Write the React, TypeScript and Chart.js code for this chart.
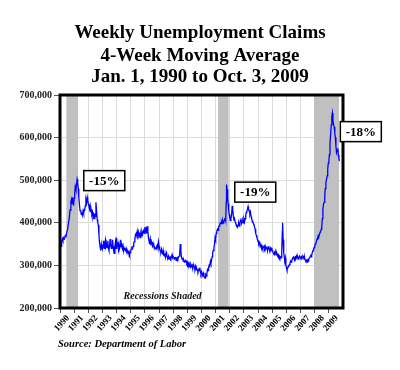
import { useEffect, useRef } from "react";
import { Chart, registerables } from "chart.js";

Chart.register(...registerables);

const TITLE_LINES = ["Weekly Unemployment Claims", "4-Week Moving Average", "Jan. 1, 1990 to Oct. 3, 2009"];
const SOURCE_TEXT = "Source: Department of Labor";
const SHADE_NOTE = "Recessions Shaded";

const yearTicks = [1990, 1991, 1992, 1993, 1994, 1995, 1996, 1997, 1998, 1999, 2000, 2001, 2002, 2003, 2004, 2005, 2006, 2007, 2008, 2009];
const claimTicks = [200000, 300000, 400000, 500000, 600000, 700000];

const recessionStart = [1990.45, 2001.17, 2007.95];
const recessionEnd = [1991.28, 2001.92, 2009.72];

const noteLabels = ["-15%", "-19%", "-18%"];
const noteYears = [1993.13, 2003.8, 2011.26];
const noteClaims = [499000, 472000, 614000];

const weekDates = [
  1990.00, 1990.04, 1990.08, 1990.12, 1990.17, 1990.21, 1990.25, 1990.31, 1990.37, 1990.42, 1990.48, 1990.54, 1990.60, 1990.65, 1990.71, 1990.77, 1990.81, 1990.85, 1990.88, 1990.92, 1990.96,
  1991.00, 1991.04, 1991.08, 1991.13, 1991.17, 1991.21, 1991.25, 1991.29, 1991.33, 1991.38, 1991.42, 1991.46, 1991.50, 1991.54, 1991.58, 1991.63, 1991.67, 1991.71, 1991.75, 1991.79, 1991.83, 1991.88, 1991.92, 1991.96,
  1992.00, 1992.04, 1992.08, 1992.13, 1992.17, 1992.21, 1992.25, 1992.29, 1992.33, 1992.38, 1992.42, 1992.46, 1992.50, 1992.54, 1992.58, 1992.63, 1992.67, 1992.71, 1992.75, 1992.79, 1992.83, 1992.88, 1992.92, 1992.96,
  1993.00, 1993.04, 1993.08, 1993.13, 1993.17, 1993.21, 1993.25, 1993.29, 1993.33, 1993.38, 1993.42, 1993.46, 1993.50, 1993.54, 1993.58, 1993.63, 1993.67, 1993.71, 1993.75, 1993.79, 1993.83, 1993.88, 1993.92, 1993.96,
  1994.00, 1994.04, 1994.08, 1994.13, 1994.17, 1994.21, 1994.25, 1994.29, 1994.33, 1994.38, 1994.42, 1994.46, 1994.50, 1994.54, 1994.58, 1994.63, 1994.67, 1994.71, 1994.75, 1994.79, 1994.83, 1994.88, 1994.92, 1994.96,
  1995.00, 1995.04, 1995.08, 1995.13, 1995.17, 1995.21, 1995.25, 1995.29, 1995.33, 1995.38, 1995.42, 1995.46, 1995.50, 1995.54, 1995.58, 1995.63, 1995.67, 1995.71, 1995.75, 1995.79, 1995.83, 1995.88, 1995.92, 1995.96,
  1996.00, 1996.04, 1996.08, 1996.13, 1996.17, 1996.21, 1996.25, 1996.29, 1996.33, 1996.38, 1996.42, 1996.46, 1996.50, 1996.54, 1996.58, 1996.63, 1996.67, 1996.71, 1996.75, 1996.79, 1996.83, 1996.88, 1996.92, 1996.96,
  1997.00, 1997.04, 1997.08, 1997.13, 1997.17, 1997.21, 1997.25, 1997.29, 1997.33, 1997.38, 1997.42, 1997.46, 1997.50, 1997.54, 1997.58, 1997.63, 1997.67, 1997.71, 1997.75, 1997.79, 1997.83, 1997.88, 1997.92, 1997.96,
  1998.00, 1998.04, 1998.08, 1998.13, 1998.17, 1998.21, 1998.25, 1998.29, 1998.33, 1998.38, 1998.42, 1998.46, 1998.50, 1998.54, 1998.58, 1998.63, 1998.67, 1998.71, 1998.75, 1998.79, 1998.83, 1998.88, 1998.92, 1998.96,
  1999.00, 1999.04, 1999.08, 1999.13, 1999.17, 1999.21, 1999.25, 1999.29, 1999.33, 1999.38, 1999.42, 1999.46, 1999.50, 1999.54, 1999.58, 1999.63, 1999.67, 1999.71, 1999.75, 1999.79, 1999.83, 1999.88, 1999.92, 1999.96,
  2000.00, 2000.04, 2000.08, 2000.13, 2000.17, 2000.21, 2000.25, 2000.29, 2000.33, 2000.38, 2000.42, 2000.46, 2000.50, 2000.54, 2000.58, 2000.63, 2000.67, 2000.71, 2000.75, 2000.79, 2000.83, 2000.88, 2000.92, 2000.96,
  2001.00, 2001.04, 2001.08, 2001.13, 2001.17, 2001.21, 2001.25, 2001.29, 2001.33, 2001.38, 2001.42, 2001.46, 2001.50, 2001.54, 2001.58, 2001.63, 2001.67, 2001.71, 2001.75, 2001.77, 2001.81, 2001.85, 2001.88, 2001.92, 2001.96,
  2002.00, 2002.04, 2002.08, 2002.13, 2002.17, 2002.21, 2002.25, 2002.29, 2002.33, 2002.38, 2002.42, 2002.46, 2002.50, 2002.54, 2002.58, 2002.63, 2002.67, 2002.71, 2002.75, 2002.79, 2002.83, 2002.88, 2002.92, 2002.96,
  2003.00, 2003.04, 2003.08, 2003.13, 2003.17, 2003.21, 2003.25, 2003.29, 2003.33, 2003.38, 2003.42, 2003.46, 2003.50, 2003.54, 2003.58, 2003.63, 2003.67, 2003.71, 2003.75, 2003.79, 2003.83, 2003.88, 2003.92, 2003.96,
  2004.00, 2004.04, 2004.08, 2004.13, 2004.17, 2004.21, 2004.25, 2004.29, 2004.33, 2004.38, 2004.42, 2004.46, 2004.50, 2004.54, 2004.58, 2004.63, 2004.67, 2004.71, 2004.75, 2004.79, 2004.83, 2004.88, 2004.92, 2004.96,
  2005.00, 2005.04, 2005.08, 2005.13, 2005.17, 2005.21, 2005.25, 2005.29, 2005.33, 2005.38, 2005.42, 2005.46, 2005.50, 2005.54, 2005.58, 2005.63, 2005.67, 2005.71, 2005.73, 2005.77, 2005.81, 2005.85, 2005.88, 2005.92, 2005.96,
  2006.00, 2006.04, 2006.08, 2006.13, 2006.17, 2006.21, 2006.25, 2006.29, 2006.33, 2006.38, 2006.42, 2006.46, 2006.50, 2006.54, 2006.58, 2006.63, 2006.67, 2006.71, 2006.75, 2006.79, 2006.83, 2006.88, 2006.92, 2006.96,
  2007.00, 2007.04, 2007.08, 2007.13, 2007.17, 2007.21, 2007.25, 2007.29, 2007.33, 2007.38, 2007.42, 2007.46, 2007.50, 2007.54, 2007.58, 2007.63, 2007.67, 2007.71, 2007.75, 2007.79, 2007.83, 2007.88, 2007.92, 2007.96,
  2008.00, 2008.04, 2008.08, 2008.13, 2008.17, 2008.21, 2008.25, 2008.29, 2008.33, 2008.38, 2008.42, 2008.46, 2008.50, 2008.54, 2008.58, 2008.63, 2008.67, 2008.71, 2008.75, 2008.79, 2008.83, 2008.88, 2008.92, 2008.96,
  2009.00, 2009.04, 2009.08, 2009.13, 2009.17, 2009.21, 2009.25, 2009.29, 2009.33, 2009.38, 2009.42, 2009.46, 2009.50, 2009.54, 2009.58, 2009.63, 2009.67, 2009.71, 2009.75,
];

const claimsThousands = [
  360, 352, 345, 355, 362, 358, 365, 362, 370, 368, 378, 385, 400, 410, 430, 450, 455, 445, 460, 452, 440,
  458, 470, 485, 478, 490, 502, 495, 480, 460, 440, 428, 430, 420, 425, 418, 428, 422, 430, 432, 440, 455, 448, 460, 452,
  445, 440, 432, 440, 428, 430, 420, 425, 412, 418, 410, 422, 415, 448, 430, 408, 400, 395, 372, 355, 345, 335, 350, 342,
  338, 345, 358, 340, 352, 360, 345, 350, 342, 358, 340, 335, 345, 362, 348, 340, 345, 360, 345, 335, 328, 345, 355, 340,
  365, 345, 355, 338, 350, 340, 345, 360, 352, 342, 338, 345, 335, 340, 338, 335, 340, 332, 335, 330, 328, 332, 326, 330,
  335, 338, 342, 340, 345, 352, 355, 360, 372, 375, 370, 380, 372, 378, 368, 372, 365, 375, 370, 378, 372, 380, 385, 375,
  390, 380, 385, 375, 392, 380, 365, 358, 350, 362, 352, 355, 348, 345, 352, 345, 340, 342, 340, 338, 345, 348, 342, 355,
  345, 338, 335, 332, 338, 330, 328, 335, 325, 322, 328, 320, 330, 325, 320, 318, 322, 315, 318, 320, 316, 320, 325, 318,
  320, 318, 315, 318, 320, 312, 315, 318, 315, 320, 322, 328, 350, 335, 320, 315, 318, 310, 312, 308, 310, 312, 310, 305,
  308, 302, 305, 298, 300, 295, 302, 298, 300, 296, 302, 298, 295, 292, 298, 290, 292, 288, 285, 290, 288, 295, 285, 280,
  285, 280, 278, 282, 275, 272, 270, 278, 275, 280, 290, 288, 295, 300, 298, 310, 305, 312, 320, 330, 335, 342, 350, 365,
  360, 375, 380, 385, 382, 390, 392, 395, 400, 398, 402, 398, 405, 400, 402, 408, 410, 405, 450, 490, 478, 460, 445, 430, 420,
  412, 405, 410, 420, 440, 430, 415, 408, 410, 402, 398, 395, 392, 390, 395, 398, 392, 400, 405, 410, 398, 402, 405, 400,
  408, 402, 410, 420, 425, 428, 432, 438, 430, 428, 420, 425, 415, 410, 405, 402, 398, 395, 390, 385, 375, 370, 365, 360,
  358, 352, 355, 350, 345, 348, 342, 345, 340, 342, 345, 340, 345, 338, 340, 342, 335, 340, 345, 338, 335, 340, 335, 342,
  335, 332, 328, 325, 330, 328, 330, 325, 328, 322, 325, 320, 322, 318, 320, 318, 330, 380, 400, 360, 330, 320, 312, 318, 300,
  295, 290, 292, 298, 300, 302, 305, 310, 308, 312, 315, 318, 320, 318, 315, 320, 318, 322, 318, 320, 315, 318, 322, 320,
  318, 315, 320, 318, 322, 320, 315, 318, 312, 310, 312, 308, 312, 310, 315, 318, 320, 322, 320, 325, 330, 335, 338, 342,
  345, 350, 352, 358, 362, 365, 370, 368, 372, 378, 380, 385, 392, 410, 432, 445, 448, 465, 480, 495, 500, 510, 525, 540,
  545, 560, 585, 610, 630, 650, 658, 640, 630, 625, 610, 600, 580, 565, 570, 575, 560, 550, 545,
];

const SERIF = '"Liberation Serif", "Times New Roman", serif';

const decorPlugin = {
  id: "decor",
  beforeDatasetsDraw(chart: any) {
    const { ctx, chartArea, scales } = chart;
    ctx.save();
    ctx.fillStyle = "#c0c0c0";
    for (let i = 0; i < recessionStart.length; i++) {
      const x0 = scales.x.getPixelForValue(recessionStart[i]);
      const x1 = scales.x.getPixelForValue(recessionEnd[i]);
      ctx.fillRect(x0, chartArea.top, x1 - x0, chartArea.bottom - chartArea.top);
    }
    ctx.restore();
  },
  afterDatasetsDraw(chart: any) {
    const { ctx, chartArea, scales } = chart;
    ctx.save();
    ctx.fillStyle = "#111";
    ctx.font = `italic bold 10px ${SERIF}`;
    ctx.textAlign = "center";
    ctx.textBaseline = "alphabetic";
    ctx.fillText(SHADE_NOTE, scales.x.getPixelForValue(1997.25), chartArea.bottom - 9);
    ctx.strokeStyle = "#000";
    ctx.lineWidth = 3;
    ctx.strokeRect(chartArea.left, chartArea.top, chartArea.right - chartArea.left, chartArea.bottom - chartArea.top);
    ctx.restore();
  },
  afterDraw(chart: any) {
    const { ctx, chartArea, scales } = chart;
    ctx.save();
    ctx.fillStyle = "#000";
    ctx.font = `bold 19px ${SERIF}`;
    ctx.textAlign = "center";
    ctx.textBaseline = "alphabetic";
    const baselines = [30, 53, 74];
    TITLE_LINES.forEach((t, i) => ctx.fillText(t, chart.width / 2, baselines[i]));
    ctx.font = `bold 13px ${SERIF}`;
    ctx.textBaseline = "middle";
    for (let i = 0; i < noteLabels.length; i++) {
      const cx = scales.x.getPixelForValue(noteYears[i]);
      const cy = scales.y.getPixelForValue(noteClaims[i]);
      const w = 41, h = 20;
      ctx.fillStyle = "#fff";
      ctx.fillRect(cx - w / 2, cy - h / 2, w, h);
      ctx.strokeStyle = "#000";
      ctx.lineWidth = 1.5;
      ctx.strokeRect(cx - w / 2, cy - h / 2, w, h);
      ctx.fillStyle = "#000";
      ctx.fillText(noteLabels[i], cx, cy + 1);
    }
    ctx.font = `italic bold 10.5px ${SERIF}`;
    ctx.textAlign = "left";
    ctx.textBaseline = "alphabetic";
    ctx.fillText(SOURCE_TEXT, chartArea.left - 2, 339);
    ctx.restore();
  },
};

export default function App() {
  const ref = useRef<HTMLCanvasElement | null>(null);
  useEffect(() => {
    if (!ref.current) return;
    const points = weekDates.map((d, i) => ({ x: d, y: claimsThousands[i] * 1000 }));
    const chart = new Chart(ref.current, {
      type: "line",
      data: {
        datasets: [
          {
            data: points,
            borderColor: "#0000ff",
            borderWidth: 1.3,
            pointRadius: 0,
            tension: 0,
            fill: false,
          },
        ],
      },
      options: {
        responsive: false,
        animation: false,
        layout: { padding: { top: 87, right: 49, bottom: 0, left: 0 } },
        plugins: { legend: { display: false }, title: { display: false }, tooltip: { enabled: false } },
        scales: {
          x: {
            type: "linear",
            min: 1990,
            max: 2010,
            afterBuildTicks: (scale: any) => {
              scale.ticks = yearTicks.map((v) => ({ value: v }));
            },
            afterFit: (scale: any) => {
              scale.height = 54;
            },
            ticks: {
              autoSkip: false,
              maxRotation: 48,
              minRotation: 48,
              padding: 0,
              labelOffset: 8,
              color: "#000",
              font: { family: SERIF, size: 9, weight: "bold" },
              callback: (v: any) => String(v),
            },
            grid: { color: "#dcdcdc", tickColor: "#555", tickLength: 5, lineWidth: 1 },
            border: { display: false },
          },
          y: {
            min: 200000,
            max: 700000,
            afterBuildTicks: (scale: any) => {
              scale.ticks = claimTicks.map((v) => ({ value: v }));
            },
            afterFit: (scale: any) => {
              scale.width = 52;
            },
            ticks: {
              padding: 2,
              color: "#222",
              font: { family: SERIF, size: 10, weight: "bold" },
              callback: (v: any) => Number(v).toLocaleString("en-US"),
            },
            grid: { color: "#dcdcdc", tickColor: "#555", tickLength: 6, lineWidth: 1 },
            border: { display: false },
          },
        },
      },
      plugins: [decorPlugin],
    });
    return () => chart.destroy();
  }, []);
  return <canvas ref={ref} width={384} height={354} style={{ display: "block" }} />;
}
